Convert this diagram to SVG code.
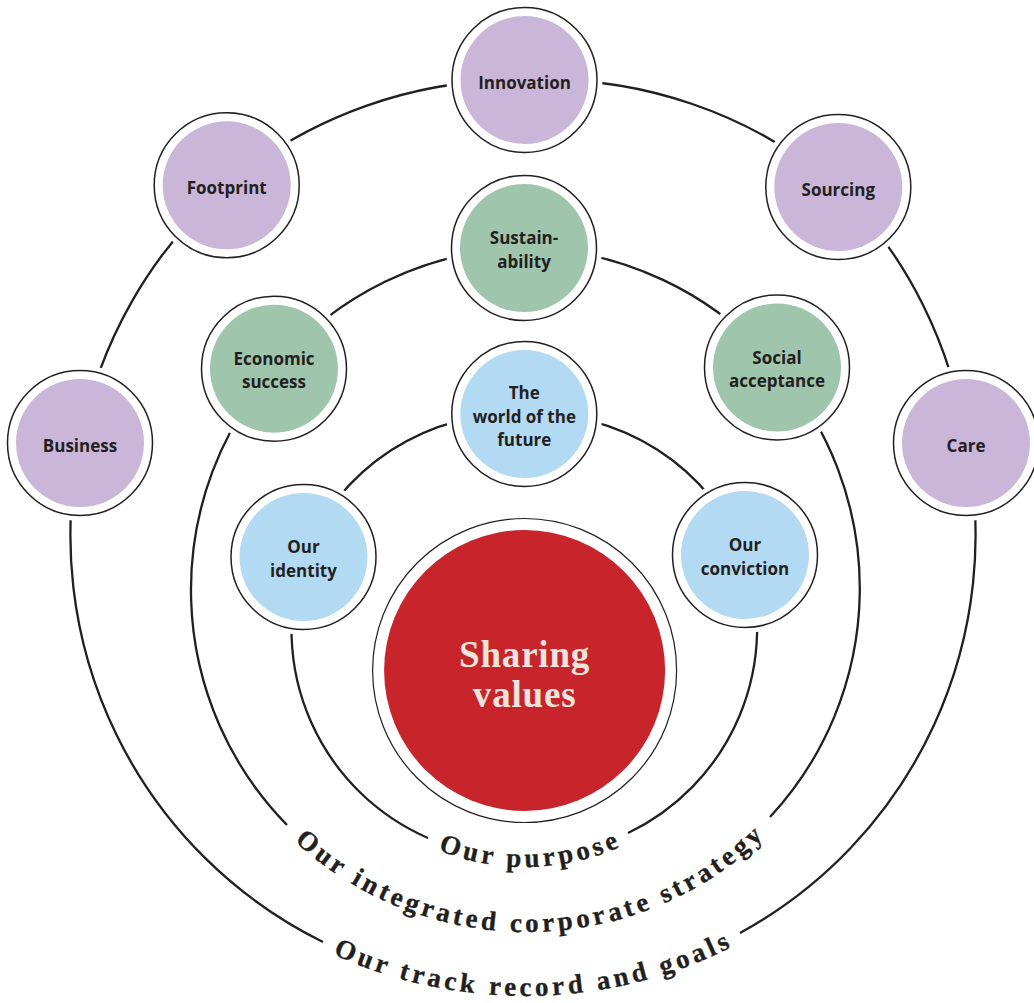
<svg xmlns="http://www.w3.org/2000/svg" xmlns:xlink="http://www.w3.org/1999/xlink" width="1034" height="1003" viewBox="0 0 1034 1003">
<style>
.ringline{fill:none;stroke:#231f20;stroke-width:2.3}
.bk{fill:#ffffff}
.outl{fill:#ffffff;stroke:#231f20;stroke-width:1.5}
.purple{fill:#c9b6d9}
.green{fill:#9fc5ad}
.blue{fill:#b3daf3}
.lbl{font-family:"Open Sans","Noto Sans","DejaVu Sans",sans-serif;font-weight:700;font-size:17px;fill:#231f20;text-anchor:middle}
.arc{font-family:"Liberation Serif","DejaVu Serif",serif;font-weight:700;font-size:27px;fill:#231f20;stroke:#231f20;stroke-width:0.35;letter-spacing:3.9px;text-anchor:middle}
.core{font-family:"Liberation Serif","DejaVu Serif",serif;font-weight:700;font-size:37px;fill:#ece5dc;text-anchor:middle;letter-spacing:0.8px}
</style>
<defs>
<path id="tpInner" d="M 291 633 A 234 234 0 0 0 759 633"/>
<path id="tpMiddle" d="M 184 589 A 343 343 0 0 0 870 589"/>
<path id="tpOuter" d="M 64 535 A 461 461 0 0 0 986 535"/>
</defs>
<rect width="1034" height="1003" fill="#ffffff"/>
<g id="connectors">
<path class="ringline" d="M 323 942 A 453 453 0 0 1 80 443 A 453 453 0 0 1 226.7 185.3 A 453 453 0 0 1 524.5 80 A 453 453 0 0 1 838.3 187 A 453 453 0 0 1 966 443 A 453 453 0 0 1 740 933"/>
<path class="ringline" d="M 287 825 A 336 336 0 0 1 274 368.7 A 336 336 0 0 1 524 248 A 336 336 0 0 1 777 367.5 A 336 336 0 0 1 770 817"/>
<path class="ringline" d="M 428 838 A 227 227 0 0 1 303.5 557 A 227 227 0 0 1 524.3 414 A 227 227 0 0 1 745 555 A 227 227 0 0 1 628 833"/>
</g>
<g id="ring-labels">
<text class="arc"><textPath xlink:href="#tpInner" href="#tpInner" startOffset="373.6">Our purpose</textPath></text>
<text class="arc"><textPath xlink:href="#tpMiddle" href="#tpMiddle" startOffset="543.3">Our integrated corporate strategy</textPath></text>
<text class="arc"><textPath xlink:href="#tpOuter" href="#tpOuter" startOffset="733.6">Our track record and goals</textPath></text>
</g>
<g id="node-sharing-values" transform="translate(524.6,670.5)">
<circle r="152" fill="#ffffff" stroke="#231f20" stroke-width="1.2"/>
<circle r="140.5" fill="#c8242c"/>
<text class="core" y="-4">Sharing</text>
<text class="core" y="36">values</text>
</g>
<g id="node-business" transform="translate(80,443)">
<circle r="78" class="bk"/><circle r="72.5" class="outl"/><circle r="64" class="purple"/>
<text class="lbl" y="9">Business</text>
</g>
<g id="node-footprint" transform="translate(226.7,185.3)">
<circle r="78" class="bk"/><circle r="72.5" class="outl"/><circle r="64" class="purple"/>
<text class="lbl" y="9">Footprint</text>
</g>
<g id="node-innovation" transform="translate(524.5,80)">
<circle r="78" class="bk"/><circle r="72.5" class="outl"/><circle r="64" class="purple"/>
<text class="lbl" y="9">Innovation</text>
</g>
<g id="node-sourcing" transform="translate(838.3,187)">
<circle r="78" class="bk"/><circle r="72.5" class="outl"/><circle r="64" class="purple"/>
<text class="lbl" y="9">Sourcing</text>
</g>
<g id="node-care" transform="translate(966,443)">
<circle r="78" class="bk"/><circle r="72.5" class="outl"/><circle r="64" class="purple"/>
<text class="lbl" y="9">Care</text>
</g>
<g id="node-economic-success" transform="translate(274,368.7)">
<circle r="78" class="bk"/><circle r="72.5" class="outl"/><circle r="64" class="green"/>
<text class="lbl" y="-4">Economic</text>
<text class="lbl" y="19.5">success</text>
</g>
<g id="node-sustainability" transform="translate(524,248)">
<circle r="78" class="bk"/><circle r="72.5" class="outl"/><circle r="64" class="green"/>
<text class="lbl" y="-4">Sustain-</text>
<text class="lbl" y="19.5">ability</text>
</g>
<g id="node-social-acceptance" transform="translate(777,367.5)">
<circle r="78" class="bk"/><circle r="72.5" class="outl"/><circle r="64" class="green"/>
<text class="lbl" y="-4">Social</text>
<text class="lbl" y="19.5">acceptance</text>
</g>
<g id="node-our-identity" transform="translate(303.5,557)">
<circle r="78" class="bk"/><circle r="72.5" class="outl"/><circle r="64" class="blue"/>
<text class="lbl" y="-4">Our</text>
<text class="lbl" y="19.5">identity</text>
</g>
<g id="node-world-of-the-future" transform="translate(524.3,414)">
<circle r="78" class="bk"/><circle r="72.5" class="outl"/><circle r="64" class="blue"/>
<text class="lbl" y="-15">The</text>
<text class="lbl" y="8.5">world of the</text>
<text class="lbl" y="32">future</text>
</g>
<g id="node-our-conviction" transform="translate(745,555)">
<circle r="78" class="bk"/><circle r="72.5" class="outl"/><circle r="64" class="blue"/>
<text class="lbl" y="-4">Our</text>
<text class="lbl" y="19.5">conviction</text>
</g>
</svg>
